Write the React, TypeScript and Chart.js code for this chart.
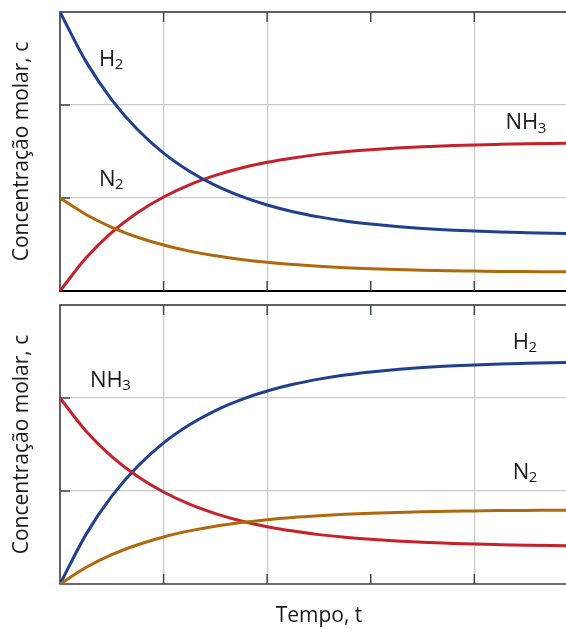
import React, { useEffect, useRef } from "react";
import { Chart, registerables } from "chart.js";

Chart.register(...registerables);

// ---- data ----
const times = [0, 0.25, 0.5, 0.75, 1, 1.25, 1.5, 1.75, 2, 2.25, 2.5, 2.75, 3, 3.25, 3.5, 3.75, 4, 4.25, 4.5, 4.75, 5];

// Top panel: N2 + 3H2 -> 2NH3
const topH2 = [3.0, 2.469, 2.056, 1.734, 1.483, 1.288, 1.135, 1.017, 0.925, 0.853, 0.797, 0.753, 0.72, 0.693, 0.672, 0.656, 0.644, 0.634, 0.627, 0.621, 0.616];
const topN2 = [1.0, 0.823, 0.685, 0.578, 0.494, 0.429, 0.378, 0.339, 0.308, 0.284, 0.266, 0.251, 0.24, 0.231, 0.224, 0.219, 0.215, 0.211, 0.209, 0.207, 0.205];
const topNH3 = [0, 0.354, 0.63, 0.844, 1.011, 1.142, 1.243, 1.322, 1.384, 1.431, 1.469, 1.498, 1.52, 1.538, 1.552, 1.562, 1.571, 1.577, 1.582, 1.586, 1.589];

// Bottom panel: 2NH3 -> N2 + 3H2
const botNH3 = [2.0, 1.646, 1.37, 1.156, 0.989, 0.858, 0.757, 0.678, 0.616, 0.569, 0.531, 0.502, 0.48, 0.462, 0.448, 0.438, 0.429, 0.423, 0.418, 0.414, 0.411];
const botH2 = [0, 0.531, 0.944, 1.266, 1.517, 1.712, 1.865, 1.983, 2.075, 2.147, 2.203, 2.247, 2.28, 2.307, 2.328, 2.344, 2.356, 2.366, 2.373, 2.379, 2.384];
const botN2 = [0, 0.177, 0.315, 0.422, 0.506, 0.571, 0.622, 0.661, 0.692, 0.716, 0.734, 0.749, 0.76, 0.769, 0.776, 0.781, 0.785, 0.789, 0.791, 0.793, 0.795];

const xTickValues = [1, 2, 3, 4];
const yTickValues = [1, 2];
const xMax = 4.885;
const yMax = 3;

const yTitle = "Concentração molar, c";
const xTitle = "Tempo, t";

// curve labels anchored in data units (left edge, baseline): formula + subscript
const topLabels = [
  { main: "H", sub: "2", t: 0.376, c: 2.42 },
  { main: "N", sub: "2", t: 0.376, c: 1.13 },
  { main: "NH", sub: "3", t: 4.3, c: 1.74 },
];
const botLabels = [
  { main: "NH", sub: "3", t: 0.29, c: 2.12 },
  { main: "H", sub: "2", t: 4.37, c: 2.53 },
  { main: "N", sub: "2", t: 4.37, c: 1.13 },
];

const BLUE = "#1f3f8f";
const RED = "#c4212b";
const GOLD = "#b1680c";
const GRID = "#c9c9c9";
const FRAME = "#2e2e2e";
const TICK = "#3d4757";
const TEXT = "#1a1a1a";
const FONT = '"Open Sans", "Noto Sans", sans-serif';

function toPoints(vals: number[]) {
  return vals.map((v, i) => ({ x: times[i], y: v }));
}

function makePlugin(cfg: {
  labels: { main: string; sub: string; t: number; c: number }[];
  frameBottomColor: string;
  frameBottomWidth: number;
  drawXTitle: boolean;
}) {
  return {
    id: "frameAndText",
    beforeDatasetsDraw(chart: any) {
      const { ctx, chartArea } = chart;
      const xs = chart.scales.x;
      const ys = chart.scales.y;
      const { left, top, right, bottom } = chartArea;
      ctx.save();
      ctx.strokeStyle = FRAME;
      ctx.lineWidth = 1.5;
      ctx.beginPath();
      ctx.moveTo(right + 2, top);
      ctx.lineTo(left, top);
      ctx.lineTo(left, bottom);
      ctx.stroke();
      ctx.strokeStyle = cfg.frameBottomColor;
      ctx.lineWidth = cfg.frameBottomWidth;
      ctx.beginPath();
      ctx.moveTo(left - 0.75, bottom);
      ctx.lineTo(right + 2, bottom);
      ctx.stroke();
      ctx.strokeStyle = TICK;
      ctx.lineWidth = 1.5;
      ctx.beginPath();
      for (const v of xTickValues) {
        const px = xs.getPixelForValue(v);
        ctx.moveTo(px, bottom);
        ctx.lineTo(px, bottom - 10);
        ctx.moveTo(px, top);
        ctx.lineTo(px, top + 10);
      }
      for (const v of yTickValues) {
        const py = ys.getPixelForValue(v);
        ctx.moveTo(left, py);
        ctx.lineTo(left + 10, py);
      }
      ctx.stroke();
      ctx.restore();
    },
    afterDraw(chart: any) {
      const { ctx, chartArea } = chart;
      const xs = chart.scales.x;
      const ys = chart.scales.y;
      ctx.save();
      ctx.fillStyle = TEXT;
      ctx.textAlign = "left";
      ctx.textBaseline = "alphabetic";
      for (const l of cfg.labels) {
        const px = xs.getPixelForValue(l.t);
        const py = ys.getPixelForValue(l.c);
        ctx.font = `22px ${FONT}`;
        ctx.fillText(l.main, px, py);
        const w = ctx.measureText(l.main).width;
        ctx.font = `15px ${FONT}`;
        ctx.fillText(l.sub, px + w - 0.5, py + 3.5);
      }
      ctx.font = `21px ${FONT}`;
      ctx.save();
      ctx.translate(28, (chartArea.top + chartArea.bottom) / 2);
      ctx.rotate(-Math.PI / 2);
      ctx.textAlign = "center";
      ctx.fillText(yTitle, 0, 0);
      ctx.restore();
      if (cfg.drawXTitle) {
        ctx.textAlign = "center";
        ctx.fillText(xTitle, xs.getPixelForValue(2.5), chartArea.bottom + 38);
      }
      ctx.restore();
    },
  };
}

function gridColor(ctx: any) {
  const v = ctx.tick ? ctx.tick.value : NaN;
  if (v > 0 && Math.abs(v - Math.round(v)) < 1e-6 && v < 4.5 && v !== yMax) return GRID;
  return "rgba(0,0,0,0)";
}

function makeConfig(
  series: { data: number[]; color: string }[],
  padding: { top: number; bottom: number },
  plugin: any
): any {
  return {
    type: "line",
    data: {
      datasets: series.map((s) => ({
        data: toPoints(s.data),
        borderColor: s.color,
        backgroundColor: s.color,
        borderWidth: 3,
        pointRadius: 0,
        cubicInterpolationMode: "monotone",
        fill: false,
      })),
    },
    options: {
      animation: false,
      responsive: false,
      maintainAspectRatio: false,
      layout: { padding: { left: 60, right: 0, top: padding.top, bottom: padding.bottom } },
      plugins: { legend: { display: false }, tooltip: { enabled: false } },
      scales: {
        x: {
          type: "linear",
          min: 0,
          max: xMax,
          ticks: { display: false, stepSize: 1, includeBounds: false },
          grid: { color: gridColor, lineWidth: 1.2, drawTicks: false },
          border: { display: false },
        },
        y: {
          type: "linear",
          min: 0,
          max: yMax,
          ticks: { display: false, stepSize: 1 },
          grid: { color: gridColor, lineWidth: 1.2, drawTicks: false },
          border: { display: false },
        },
      },
    },
    plugins: [plugin],
  };
}

export default function App() {
  const topRef = useRef<HTMLCanvasElement>(null);
  const botRef = useRef<HTMLCanvasElement>(null);

  useEffect(() => {
    document.body.style.margin = "0";
    const c1 = new Chart(
      topRef.current as HTMLCanvasElement,
      makeConfig(
        [
          { data: topN2, color: GOLD },
          { data: topH2, color: BLUE },
          { data: topNH3, color: RED },
        ],
        { top: 12, bottom: 7 },
        makePlugin({ labels: topLabels, frameBottomColor: "#000", frameBottomWidth: 2, drawXTitle: false })
      )
    );
    const c2 = new Chart(
      botRef.current as HTMLCanvasElement,
      makeConfig(
        [
          { data: botN2, color: GOLD },
          { data: botNH3, color: RED },
          { data: botH2, color: BLUE },
        ],
        { top: 7, bottom: 45 },
        makePlugin({ labels: botLabels, frameBottomColor: "#3a3a3a", frameBottomWidth: 1.5, drawXTitle: true })
      )
    );
    return () => {
      c1.destroy();
      c2.destroy();
    };
  }, []);

  return (
    <div style={{ position: "absolute", left: 0, top: 0, width: 566, height: 629, background: "#fff" }}>
      <canvas ref={topRef} width={566} height={298} style={{ position: "absolute", left: 0, top: 0, width: 566, height: 298 }} />
      <canvas ref={botRef} width={566} height={331} style={{ position: "absolute", left: 0, top: 298, width: 566, height: 331 }} />
    </div>
  );
}
